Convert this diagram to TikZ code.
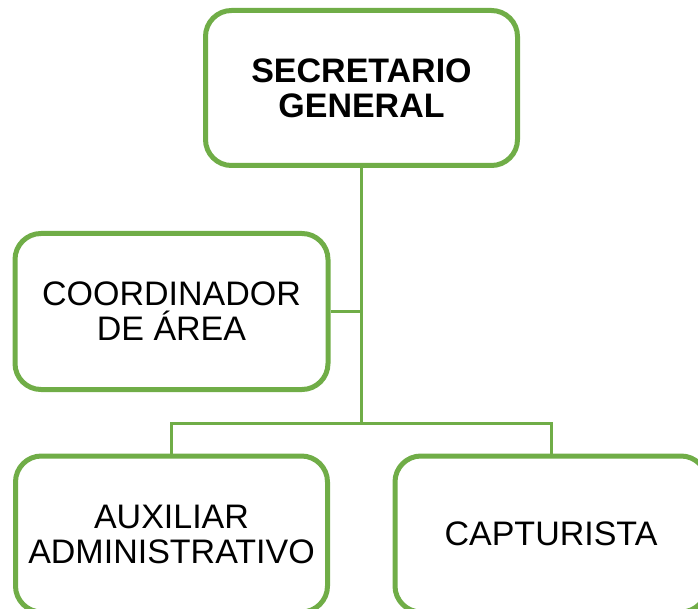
\documentclass[tikz,border=0pt]{standalone}
\usepackage{fontspec}
\setmainfont{Liberation Sans}
\definecolor{orggreen}{RGB}{112,173,71}
\begin{document}
\begin{tikzpicture}[x=1pt,y=-1pt,
  box/.style={draw=orggreen,line width=5pt,rounded corners=26pt,fill=white,align=center,inner sep=0pt,
    minimum width=312pt,minimum height=156pt,font=\fontsize{34}{35}\selectfont},
  conn/.style={draw=orggreen,line width=3pt}]
\useasboundingbox (0,0) rectangle (698,609);
\clip (0,0) rectangle (698,609);
\coordinate (j) at (361.5,423);
\node[box,minimum height=155pt,font=\bfseries\fontsize{34}{35}\selectfont] (sec) at (361.5,88) {SECRETARIO\\GENERAL};
\node[box,minimum width=313pt] (coord) at (171.5,311.5) {COORDINADOR\\DE ÁREA};
\node[box] (aux) at (171.5,534) {AUXILIAR\\ADMINISTRATIVO};
\node[box] (cap) at (551,534) {CAPTURISTA};
\draw[conn] (sec.south) -- (j);
\draw[conn] (coord.east) -- (coord.east -| sec.south);
\draw[conn] (aux.north) |- (j) -| (cap.north);
\end{tikzpicture}
\end{document}
